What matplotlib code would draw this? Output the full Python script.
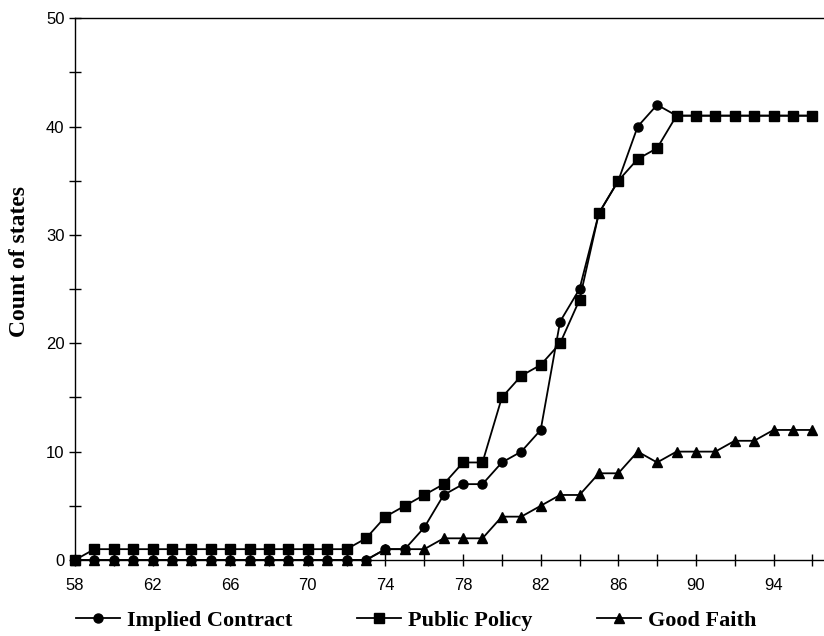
import numpy as np
import matplotlib.pyplot as plt
from matplotlib.ticker import MultipleLocator, FixedLocator

# Year (19xx) and cumulative count of states
years = list(range(58, 97))

implied_contract = [0] * 16 + [1, 1, 3, 6, 7, 7, 9, 10, 12, 22, 25, 32, 35, 40, 42] + [41] * 8
public_policy = [0] + [1] * 14 + [2, 4, 5, 6, 7, 9, 9, 15, 17, 18, 20, 24, 32, 35, 37, 38] + [41] * 8
good_faith = [0] * 16 + [1, 1, 1, 2, 2, 2, 4, 4, 5, 6, 6, 8, 8, 10, 9, 10, 10, 10, 11, 11, 12, 12, 12]

label_years = list(range(58, 95, 4))
tick_years = list(range(58, 97, 2))

fig = plt.figure(figsize=(8.24, 6.36), dpi=100)
ax = fig.add_axes([0.091, 0.1195, 0.909, 0.852])

ax.plot(years, implied_contract, color="black", lw=1.3, marker="o", ms=6.5, label="Implied Contract", clip_on=False, zorder=3)
ax.plot(years, public_policy, color="black", lw=1.3, marker="s", ms=6.5, label="Public Policy", clip_on=False, zorder=4)
ax.plot(years, good_faith, color="black", lw=1.3, marker="^", ms=7, label="Good Faith", clip_on=False, zorder=2)

ax.set_xlim(58, 96.6)
ax.set_ylim(0, 50)

ax.xaxis.set_major_locator(FixedLocator(label_years))
ax.xaxis.set_minor_locator(FixedLocator(tick_years))
ax.yaxis.set_major_locator(MultipleLocator(10))
ax.yaxis.set_minor_locator(MultipleLocator(5))

ax.tick_params(axis="both", which="both", direction="inout", colors="black", width=1)
ax.tick_params(axis="both", which="major", length=8, labelsize=12)
ax.tick_params(axis="both", which="minor", length=8)
ax.tick_params(axis="x", which="major", pad=9)
for lab in ax.get_xticklabels() + ax.get_yticklabels():
    lab.set_family("Liberation Sans")

ax.spines["right"].set_visible(False)
for s in ["left", "bottom", "top"]:
    ax.spines[s].set_linewidth(1)

ax.set_ylabel("Count of states", fontsize=17, family="Liberation Serif", weight="bold")
ax.yaxis.set_label_coords(-0.06, 0.55)

leg = fig.legend(loc="lower left", bbox_to_anchor=(0.068, -0.024), ncol=3, frameon=False,
                 handlelength=2.0, handletextpad=0.3, columnspacing=2.9,
                 prop={"family": "Liberation Serif", "weight": "bold", "size": 16})

fig.savefig("out.png", dpi=100)
